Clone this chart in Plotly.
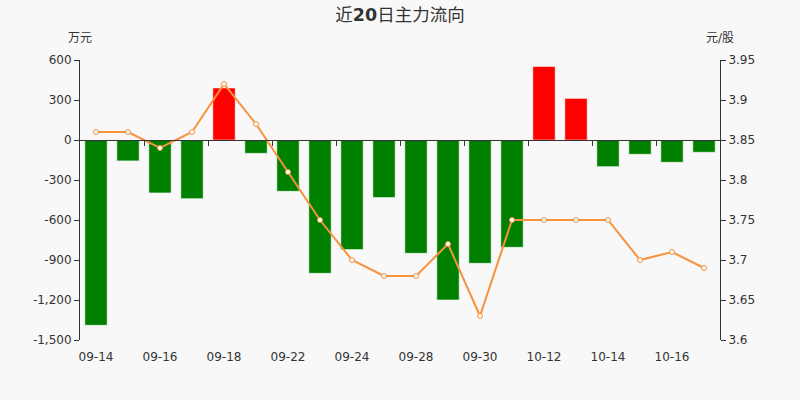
import plotly.graph_objects as go

dates = ["09-14", "09-15", "09-16", "09-17", "09-18", "09-21", "09-22", "09-23", "09-24", "09-25",
         "09-28", "09-29", "09-30", "10-09", "10-12", "10-13", "10-14", "10-15", "10-16", "10-19"]
flow = [-1390, -157, -397, -440, 390, -100, -385, -1000, -822, -432,
        -850, -1200, -925, -805, 552, 312, -200, -107, -167, -92]
price = [3.86, 3.86, 3.84, 3.86, 3.92, 3.87, 3.81, 3.75, 3.70, 3.68,
         3.68, 3.72, 3.63, 3.75, 3.75, 3.75, 3.75, 3.70, 3.71, 3.69]
left_ticks = [600, 300, 0, -300, -600, -900, -1200, -1500]
right_ticks = [3.95, 3.9, 3.85, 3.8, 3.75, 3.7, 3.65, 3.6]

idx = list(range(len(dates)))
bar_colors = ["#ff0000" if v > 0 else "#008000" for v in flow]
FONT = "DejaVu Sans, Noto Sans CJK SC, sans-serif"
AX = "#333333"

fig = go.Figure()
fig.add_trace(go.Bar(
    x=idx, y=flow, marker=dict(color=bar_colors, line=dict(color="rgba(255,255,255,0.55)", width=1)),
    width=0.7, yaxis="y", xaxis="x", showlegend=False, hoverinfo="x+y"))
fig.add_trace(go.Scatter(
    x=idx, y=price, yaxis="y2", xaxis="x", mode="lines+markers",
    line=dict(color="#f7923c", width=2),
    marker=dict(symbol="circle", size=5, color="#ffffff", line=dict(color="#f7923c", width=1)),
    showlegend=False))
# invisible trace to hold the zero-line axis
fig.add_trace(go.Scatter(x=[idx[0], idx[-1]], y=[0, 0], xaxis="x2", yaxis="y",
                         mode="lines", line=dict(width=0), opacity=0, showlegend=False, hoverinfo="skip"))

n = len(dates)
zero_pos = (0 - left_ticks[-1]) / (left_ticks[0] - left_ticks[-1])
ph = 400 - 120

fig.update_layout(
    width=800, height=400,
    margin=dict(l=80, r=80, t=60, b=60),
    paper_bgcolor="#f8f8f8", plot_bgcolor="#f8f8f8",
    font=dict(family=FONT, size=12, color=AX),
    title=dict(text="近<b>20</b>日主力流向", x=0.5, xanchor="center", y=0.978, yanchor="top",
               font=dict(size=17.5, color=AX, family=FONT)),
    xaxis=dict(range=[-0.5, n - 0.5], tickvals=idx[::2], ticktext=dates[::2],
               showline=False, ticks="outside", ticklen=6, tickcolor="rgba(0,0,0,0)",
               showgrid=False, zeroline=False, tickfont=dict(size=12, color=AX)),
    xaxis2=dict(range=[-0.5, n - 0.5], overlaying="x", anchor="free", position=zero_pos,
                tickvals=[i + 1.5 for i in idx[:-2:2]], showticklabels=False,
                ticks="outside", ticklen=5, tickcolor=AX, showline=True, linecolor=AX,
                linewidth=1, showgrid=False, zeroline=False),
    yaxis=dict(range=[left_ticks[-1], left_ticks[0]], tickvals=left_ticks,
               ticktext=[f"{v:,}" for v in left_ticks], showline=True, linecolor=AX,
               ticks="outside", ticklen=5, tickcolor=AX, showgrid=False, zeroline=False,
               tickfont=dict(size=12, color=AX)),
    yaxis2=dict(range=[right_ticks[-1], right_ticks[0]], tickvals=right_ticks,
                ticktext=[f"{v:g}" for v in right_ticks], overlaying="y", side="right",
                showline=True, linecolor=AX, ticks="outside", ticklen=5, tickcolor=AX,
                showgrid=False, zeroline=False, tickfont=dict(size=12, color=AX)),
    annotations=[
        dict(text="万元", x=0, y=(340 - 38) / ph, xref="paper", yref="paper", showarrow=False,
             xanchor="center", yanchor="middle", font=dict(size=12, color=AX)),
        dict(text="元/股", x=1, y=(340 - 38) / ph, xref="paper", yref="paper", showarrow=False,
             xanchor="center", yanchor="middle", font=dict(size=12, color=AX)),
    ],
)

fig.write_html("out.html", config={"displayModeBar": False},
               post_script="document.body.style.margin='0';document.body.style.background='#f8f8f8';")
